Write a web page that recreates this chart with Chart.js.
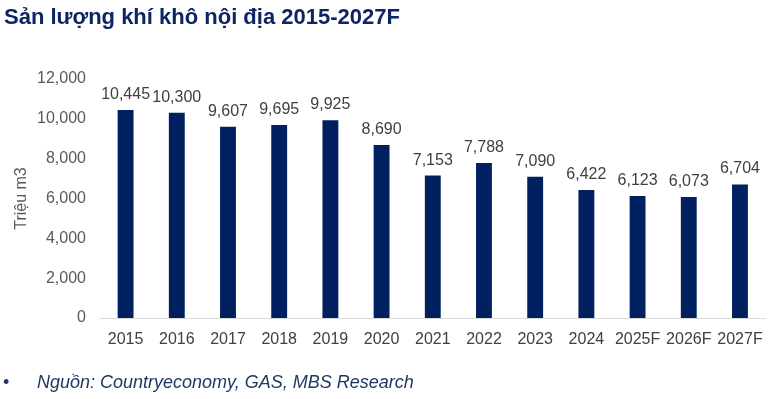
<!DOCTYPE html>
<html>
<head>
<meta charset="utf-8">
<script src="https://cdn.jsdelivr.net/npm/chart.js@4.4.1/dist/chart.umd.min.js"></script>
<style>
  html, body { margin: 0; padding: 0; background: #ffffff; }
  #wrap { position: relative; width: 775px; height: 399px; overflow: hidden; }
  #title { position: absolute; left: 4px; top: 4px; font-family: "Liberation Sans", Arial, sans-serif; font-weight: bold; font-size: 22px; color: #0d2663; white-space: nowrap; }
  #foot { position: absolute; left: 3px; top: 372px; font-family: "Liberation Sans", Arial, sans-serif; font-size: 18px; color: #1f3864; white-space: nowrap; }
  #foot .b { display: inline-block; width: 34px; font-style: normal; }
  #foot .t { font-style: italic; }
  canvas { position: absolute; left: 0; top: 0; }
</style>
</head>
<body>
<div id="wrap">
  <canvas id="c" width="775" height="399"></canvas>
  <div id="title">Sản lượng khí khô nội địa 2015-2027F</div>
  <div id="foot"><span class="b">•</span><span class="t">Nguồn: Countryeconomy, GAS, MBS Research</span></div>
</div>
<script>
const categories = ["2015","2016","2017","2018","2019","2020","2021","2022","2023","2024","2025F","2026F","2027F"];
const production = [10445, 10300, 9607, 9695, 9925, 8690, 7153, 7788, 7090, 6422, 6123, 6073, 6704];
const yTicks = [0, 2000, 4000, 6000, 8000, 10000, 12000];
const yAxisTitle = "Triệu m3";

const fmt = v => v.toLocaleString('en-US');

const valueLabels = {
  id: 'valueLabels',
  afterDatasetsDraw(chart) {
    const ctx = chart.ctx;
    const meta = chart.getDatasetMeta(0);
    ctx.save();
    ctx.font = '16px "Liberation Sans", Arial, sans-serif';
    ctx.fillStyle = '#404040';
    ctx.textAlign = 'center';
    ctx.textBaseline = 'alphabetic';
    meta.data.forEach((bar, i) => {
      ctx.fillText(fmt(production[i]), bar.x, bar.y - 11);
    });
    ctx.restore();
  }
};

new Chart(document.getElementById('c'), {
  type: 'bar',
  data: {
    labels: categories,
    datasets: [{
      data: production,
      backgroundColor: '#002060',
      borderWidth: 0,
      barPercentage: 0.62,
      categoryPercentage: 0.5
    }]
  },
  options: {
    responsive: false,
    animation: false,
    devicePixelRatio: 1,
    layout: { padding: { left: 0, right: 9, top: 79, bottom: 0 } },
    plugins: { legend: { display: false }, tooltip: { enabled: false }, title: { display: false } },
    scales: {
      x: {
        grid: { display: false, drawTicks: false },
        border: { display: true, color: '#d9d9d9', width: 1 },
        ticks: { color: '#404040', font: { family: '"Liberation Sans", Arial, sans-serif', size: 16 }, padding: 12, maxRotation: 0, autoSkip: false },
        afterFit(s) { s.height = 81; }
      },
      y: {
        min: 0, max: 12000,
        afterBuildTicks(s) { s.ticks = yTicks.map(v => ({ value: v })); },
        grid: { display: false, drawTicks: false },
        border: { display: false },
        ticks: { color: '#595959', font: { family: '"Liberation Sans", Arial, sans-serif', size: 16 }, padding: 14, callback: v => fmt(v) },
        title: { display: true, text: yAxisTitle, color: '#595959', font: { family: '"Liberation Sans", Arial, sans-serif', size: 16 }, padding: { top: 12, bottom: 0 } },
        afterFit(s) { s.width = 100; }
      }
    }
  },
  plugins: [valueLabels]
});
</script>
</body>
</html>
